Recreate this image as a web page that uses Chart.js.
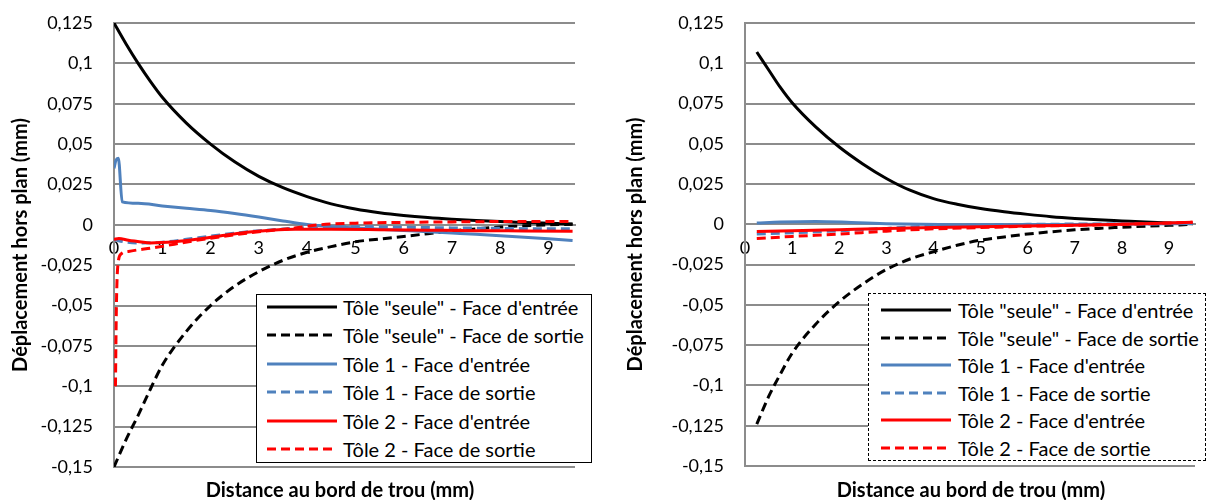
<!DOCTYPE html>
<html>
<head>
<meta charset="utf-8">
<script src="https://cdn.jsdelivr.net/npm/chart.js@4.4.0/dist/chart.umd.min.js"></script>
<style>
  body { margin: 0; background: #fff; font-family: Lato, sans-serif; }
  #wrap { position: relative; width: 1207px; height: 500px; overflow: hidden; }
  .panel { position: absolute; top: 0; height: 500px; }
  .xtitle { position: absolute; top: 477px; font: bold 20px/24px Lato; color: #000; white-space: nowrap; transform: translateX(-50%); }
  .legend { position: absolute; background: #fff; box-sizing: border-box; }
  .legend .row { position: absolute; left: 0; height: 24px; display: flex; align-items: center; white-space: nowrap; font: 20px/24px Lato; color: #000; }
  .legend svg { display: block; }
</style>
</head>
<body>
<div id="wrap">
  <div class="panel" style="left:0;width:600px">
    <canvas id="chartGauche" width="600" height="500"></canvas>
    <div class="xtitle" style="left:340px">Distance au bord de trou (mm)</div>
    <div class="legend" id="legendGauche" style="left:256px;top:294px;width:336px;height:169px;border:1.5px solid #000"></div>
  </div>
  <div class="panel" style="left:600px;width:607px">
    <canvas id="chartDroite" width="607" height="500"></canvas>
    <div class="xtitle" style="left:371px">Distance au bord de trou (mm)</div>
    <div class="legend" id="legendDroite" style="left:268px;top:293px;width:338px;height:168px;border:1px dashed #000"></div>
  </div>
</div>

<script>
// Libellés des séries
const seriesLabels = [
  'Tôle "seule" - Face d\'entrée',
  'Tôle "seule" - Face de sortie',
  'Tôle 1 - Face d\'entrée',
  'Tôle 1 - Face de sortie',
  'Tôle 2 - Face d\'entrée',
  'Tôle 2 - Face de sortie'
];

// Graduations des axes
const yTicks = [0.125, 0.1, 0.075, 0.05, 0.025, 0, -0.025, -0.05, -0.075, -0.1, -0.125, -0.15];
const xTicks = [0, 1, 2, 3, 4, 5, 6, 7, 8, 9];

// ---- Graphique de gauche ----
const xSeuleG = [0, 0.25, 0.5, 0.75, 1, 1.5, 2, 2.5, 3, 3.5, 4, 4.5, 5, 5.5, 6, 6.5, 7, 7.5, 8, 8.5, 9, 9.5];
const ySeuleEntreeG = [0.125, 0.112, 0.100, 0.089, 0.079, 0.063, 0.050, 0.039, 0.030, 0.023, 0.0175, 0.013, 0.0098, 0.0075, 0.0058, 0.0045, 0.0035, 0.0027, 0.002, 0.0015, 0.001, 0.0005];
const ySeuleSortieG = [-0.15, -0.133, -0.118, -0.102, -0.087, -0.066, -0.050, -0.038, -0.029, -0.022, -0.017, -0.0135, -0.0105, -0.0088, -0.0072, -0.0055, -0.0038, -0.0025, -0.0014, -0.0006, 0, 0.0003];

const xTole1EntreeG = [0, 0.04, 0.09, 0.17, 0.5, 1, 1.5, 2, 2.5, 3, 3.5, 4, 4.5, 5, 5.5, 6, 6.5, 7, 7.5, 8, 8.5, 9, 9.5];
const yTole1EntreeG = [0.035, 0.040, 0.0412, 0.0142, 0.0133, 0.0117, 0.0103, 0.0089, 0.007, 0.0048, 0.0024, 0.0002, -0.0011, -0.0019, -0.0027, -0.0035, -0.0043, -0.0051, -0.0059, -0.0068, -0.0077, -0.0087, -0.0097];

const xTole1SortieG = [0, 0.2, 0.5, 1, 1.5, 2, 2.5, 3, 3.5, 4, 5, 6, 7, 8, 9, 9.5];
const yTole1SortieG = [-0.009, -0.0105, -0.0112, -0.0108, -0.009, -0.007, -0.0052, -0.0037, -0.0026, -0.0017, -0.0012, -0.0015, -0.0019, -0.0022, -0.0025, -0.0025];

const xTole2EntreeG = [0, 0.1, 0.3, 0.75, 1.25, 1.75, 2.25, 2.75, 3.25, 3.75, 4.5, 5.5, 6.5, 7.5, 8.5, 9.5];
const yTole2EntreeG = [-0.009, -0.0085, -0.0095, -0.0112, -0.0105, -0.0088, -0.0066, -0.0046, -0.0034, -0.0028, -0.0028, -0.003, -0.0033, -0.0036, -0.0038, -0.004];

const xTole2SortieG = [0.03, 0.05, 0.08, 0.15, 0.3, 0.5, 0.75, 1.25, 1.75, 2.25, 2.75, 3.25, 3.75, 4.25, 5, 6, 7, 8, 9, 9.5];
const yTole2SortieG = [-0.1, -0.05, -0.025, -0.018, -0.0165, -0.0155, -0.0145, -0.012, -0.0094, -0.0072, -0.0052, -0.0035, -0.002, 0, 0.001, 0.0015, 0.0018, 0.002, 0.002, 0.002];

// ---- Graphique de droite ----
const xSeuleD = [0.25, 0.5, 0.75, 1, 1.5, 2, 2.5, 3, 3.5, 4, 4.5, 5, 5.5, 6, 6.5, 7, 7.5, 8, 8.5, 9, 9.5];
const ySeuleEntreeD = [0.107, 0.096, 0.085, 0.0755, 0.0605, 0.048, 0.0375, 0.0285, 0.0212, 0.016, 0.0125, 0.0098, 0.0078, 0.0062, 0.0048, 0.0037, 0.0028, 0.0021, 0.0014, 0.0008, 0.0004];
const ySeuleSortieD = [-0.124, -0.107, -0.093, -0.080, -0.062, -0.048, -0.037, -0.028, -0.0215, -0.017, -0.013, -0.0098, -0.0078, -0.006, -0.0046, -0.0034, -0.0025, -0.0018, -0.0011, -0.0006, 0];

const xTole1EntreeD = [0.25, 0.75, 1.5, 2.25, 3, 3.75, 4.5, 5.5, 6.5, 7.5, 8.5, 9.5];
const yTole1EntreeD = [0.0008, 0.0014, 0.0018, 0.0012, 0.0004, 0, -0.0002, -0.0002, -0.0001, 0, 0.0002, 0.0005];

const xToleD = [0.25, 1, 2, 3, 4, 5, 6, 7, 8, 9, 9.5];
const yTole1SortieD = [-0.006, -0.0052, -0.004, -0.0025, -0.001, -0.0003, 0, 0.0002, 0.0003, 0.0005, 0.0006];
const yTole2EntreeD = [-0.0045, -0.004, -0.0033, -0.0026, -0.002, -0.0015, -0.001, -0.0005, 0, 0.0008, 0.0013];
const yTole2SortieD = [-0.0088, -0.0075, -0.006, -0.0042, -0.0028, -0.002, -0.0012, -0.0006, 0, 0.0008, 0.0013];

// Styles des séries (couleur, pointillés)
const seriesColors = ['#000000', '#000000', '#4F81BD', '#4F81BD', '#FF0000', '#FF0000'];
const seriesDashes = [[], [9, 5], [], [9, 5], [], [9, 5]];

function toPoints(xs, ys) {
  return xs.map((x, i) => ({ x: x, y: ys[i] }));
}

function buildDatasets(pairs) {
  return pairs.map((p, i) => ({
    label: seriesLabels[i],
    data: toPoints(p[0], p[1]),
    borderColor: seriesColors[i],
    backgroundColor: seriesColors[i],
    borderDash: seriesDashes[i],
    borderWidth: 3,
    borderCapStyle: 'butt',
    pointRadius: 0,
    cubicInterpolationMode: 'monotone',
    fill: false,
    order: pairs.length - i   // dernière série dessinée au-dessus, comme Excel
  }));
}

function formatFr(v) {
  return String(+v.toFixed(3)).replace('.', ',');
}

function buildOptions(axisWidth, titlePad, padRight, padBottom) {
  return {
    responsive: false,
    animation: false,
    devicePixelRatio: 1,
    layout: { padding: { left: 0, top: 23, right: padRight, bottom: padBottom } },
    plugins: { legend: { display: false }, tooltip: { enabled: false } },
    scales: {
      x: {
        type: 'linear',
        position: { y: 0 },
        min: 0,
        max: 9.55,
        afterBuildTicks: s => { s.ticks = xTicks.map(v => ({ value: v })); },
        grid: { display: false, drawTicks: false },
        border: { display: true, color: '#8c8c8c', width: 2 },
        ticks: {
          padding: 13,
          maxRotation: 0,
          color: '#000',
          font: { family: 'Lato', size: 18 },
          callback: v => formatFr(v)
        }
      },
      y: {
        type: 'linear',
        min: -0.15,
        max: 0.125,
        afterBuildTicks: s => { s.ticks = yTicks.map(v => ({ value: v })); },
        afterFit: s => {
          // largeur fixe de l'axe et pas de marge verticale ajoutée par les libellés
          s.width = axisWidth;
          s.paddingTop = 0;
          s.paddingBottom = 0;
        },
        grid: { color: '#8c8c8c', lineWidth: 2, drawTicks: false },
        border: { display: true, color: '#8c8c8c', width: 2 },
        ticks: {
          padding: 21,
          color: '#000',
          font: { family: 'Lato', size: 18 },
          callback: v => formatFr(v)
        },
        title: {
          display: true,
          text: 'Déplacement hors plan (mm)',
          color: '#000',
          font: { family: 'Lato', size: 20, weight: 'bold' },
          padding: { top: titlePad, bottom: 0 }
        }
      }
    }
  };
}

function buildLegend(id, datasets, firstRow, step, lineLeft, textLeft) {
  const box = document.getElementById(id);
  datasets.forEach((ds, i) => {
    const row = document.createElement('div');
    row.className = 'row';
    row.style.top = (firstRow + i * step - 12) + 'px';
    row.style.left = lineLeft + 'px';
    const dash = ds.borderDash.length ? ` stroke-dasharray="${ds.borderDash.join(' ')}"` : '';
    row.innerHTML =
      `<svg width="70" height="6"><line x1="0" y1="3" x2="70" y2="3" stroke="${ds.borderColor}" stroke-width="3"${dash}/></svg>` +
      `<span style="margin-left:${textLeft - lineLeft - 70}px">${ds.label.replace(/"/g, '&quot;')}</span>`;
    box.appendChild(row);
  });
}

document.addEventListener('DOMContentLoaded', function() {
  const datasetsG = buildDatasets([
    [xSeuleG, ySeuleEntreeG],
    [xSeuleG, ySeuleSortieG],
    [xTole1EntreeG, yTole1EntreeG],
    [xTole1SortieG, yTole1SortieG],
    [xTole2EntreeG, yTole2EntreeG],
    [xTole2SortieG, yTole2SortieG]
  ]);
  const datasetsD = buildDatasets([
    [xSeuleD, ySeuleEntreeD],
    [xSeuleD, ySeuleSortieD],
    [xTole1EntreeD, yTole1EntreeD],
    [xToleD, yTole1SortieD],
    [xToleD, yTole2EntreeD],
    [xToleD, yTole2SortieD]
  ]);

  window.chartGauche = new Chart(document.getElementById('chartGauche').getContext('2d'), {
    type: 'line',
    data: { datasets: datasetsG },
    options: buildOptions(114, 9, 25, 33)
  });

  window.chartDroite = new Chart(document.getElementById('chartDroite').getContext('2d'), {
    type: 'line',
    data: { datasets: datasetsD },
    options: buildOptions(145, 24, 12, 34)
  });

  buildLegend('legendGauche', datasetsG, 12, 28.4, 10, 86);
  buildLegend('legendDroite', datasetsD, 16, 27.6, 12, 89);
});
</script>
</body>
</html>
